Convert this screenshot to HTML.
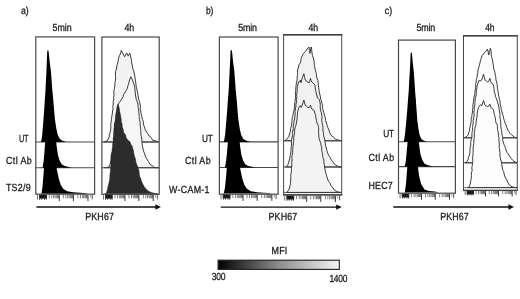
<!DOCTYPE html>
<html lang="en">
<head>
<meta charset="utf-8">
<title>PKH67 histograms</title>
<style>
html,body{margin:0;padding:0;background:#fff;}
body{width:520px;height:299px;overflow:hidden;}
svg{display:block;}
svg text{font-family:"Liberation Sans",sans-serif;fill:#1c1c1c;text-rendering:geometricPrecision;}
</style>
</head>
<body>
<svg width="520" height="299" viewBox="0 0 520 299">
<rect x="0" y="0" width="520" height="299" fill="#ffffff"/>
<line x1="35.8" y1="142.0" x2="94.6" y2="142.0" stroke="#484848" stroke-width="1.1"/>
<line x1="35.8" y1="167.7" x2="94.6" y2="167.7" stroke="#484848" stroke-width="1.1"/>
<polygon points="41.0,142.0 41.6,139.0 42.2,135.0 42.8,128.0 43.4,120.0 44.2,110.0 44.8,100.0 45.5,90.0 46.0,80.0 46.5,70.0 46.9,60.0 47.1,54.0 47.3,51.0 47.7,50.2 48.2,50.2 48.6,51.5 48.9,54.0 49.7,62.0 50.8,70.0 51.6,80.0 52.3,90.0 53.3,100.0 54.1,110.0 55.0,120.0 56.4,129.0 57.8,135.0 59.6,138.5 61.8,140.4 64.8,141.4 66.8,142.0" fill="#000"/>
<polygon points="42.5,167.7 43.1,164.7 43.7,160.7 44.3,153.7 44.9,145.7 45.7,135.7 46.3,125.7 47.0,115.7 47.5,105.7 48.0,95.7 48.4,85.7 48.6,79.7 48.8,76.7 49.2,75.9 49.7,75.9 50.1,77.2 50.4,79.7 51.2,87.7 52.3,95.7 53.1,105.7 53.8,115.7 54.8,125.7 55.7,135.7 56.6,145.7 57.9,154.7 59.7,160.7 61.9,164.5 64.8,166.1 68.8,167.0 71.8,167.7" fill="#000"/>
<polygon points="41.3,193.7 41.9,190.7 42.5,186.7 43.1,179.7 43.7,171.7 44.5,161.7 45.1,151.7 45.8,141.7 46.3,131.7 46.8,121.7 47.2,111.7 47.4,105.7 47.6,102.7 48.0,101.9 48.5,101.9 48.9,103.2 49.2,105.7 50.0,113.7 51.1,121.7 51.9,131.7 52.6,141.7 53.6,151.7 55.5,161.7 57.1,170.7 58.8,178.7 60.7,184.7 63.1,188.7 67.1,191.3 73.1,192.3 80.1,192.8 86.1,193.2 87.1,193.7" fill="#000"/>
<rect x="35.8" y="36.9" width="58.8" height="157.3" fill="none" stroke="#484848" stroke-width="1.2"/>
<rect x="39.2" y="194.8" width="7.6" height="3.8" fill="#0c0c0c"/>
<rect x="39.30" y="194.8" width="0.8" height="5.1" fill="#333"/>
<rect x="41.40" y="194.8" width="0.8" height="5.1" fill="#333"/>
<rect x="44.00" y="194.8" width="0.8" height="5.1" fill="#333"/>
<rect x="45.80" y="194.8" width="0.8" height="5.1" fill="#333"/>
<rect x="58.80" y="194.8" width="1.0" height="6.3" fill="#3a3a3a"/>
<rect x="48.83" y="194.8" width="0.8" height="3.5" fill="#4a4a4a" fill-opacity="0.85"/>
<rect x="51.37" y="194.8" width="0.8" height="3.5" fill="#4a4a4a" fill-opacity="0.85"/>
<rect x="53.17" y="194.8" width="0.8" height="3.5" fill="#4a4a4a" fill-opacity="0.85"/>
<rect x="54.57" y="194.8" width="0.8" height="3.5" fill="#4a4a4a" fill-opacity="0.85"/>
<rect x="55.71" y="194.8" width="0.8" height="3.5" fill="#4a4a4a" fill-opacity="0.85"/>
<rect x="56.67" y="194.8" width="0.8" height="3.5" fill="#4a4a4a" fill-opacity="0.85"/>
<rect x="57.50" y="194.8" width="0.8" height="3.5" fill="#4a4a4a" fill-opacity="0.85"/>
<rect x="58.24" y="194.8" width="0.8" height="3.5" fill="#4a4a4a" fill-opacity="0.85"/>
<rect x="72.90" y="194.8" width="1.0" height="6.3" fill="#3a3a3a"/>
<rect x="62.93" y="194.8" width="0.8" height="3.5" fill="#4a4a4a" fill-opacity="0.85"/>
<rect x="65.47" y="194.8" width="0.8" height="3.5" fill="#4a4a4a" fill-opacity="0.85"/>
<rect x="67.27" y="194.8" width="0.8" height="3.5" fill="#4a4a4a" fill-opacity="0.85"/>
<rect x="68.67" y="194.8" width="0.8" height="3.5" fill="#4a4a4a" fill-opacity="0.85"/>
<rect x="69.81" y="194.8" width="0.8" height="3.5" fill="#4a4a4a" fill-opacity="0.85"/>
<rect x="70.77" y="194.8" width="0.8" height="3.5" fill="#4a4a4a" fill-opacity="0.85"/>
<rect x="71.60" y="194.8" width="0.8" height="3.5" fill="#4a4a4a" fill-opacity="0.85"/>
<rect x="72.34" y="194.8" width="0.8" height="3.5" fill="#4a4a4a" fill-opacity="0.85"/>
<rect x="87.50" y="194.8" width="1.0" height="6.3" fill="#3a3a3a"/>
<rect x="77.53" y="194.8" width="0.8" height="3.5" fill="#4a4a4a" fill-opacity="0.85"/>
<rect x="80.07" y="194.8" width="0.8" height="3.5" fill="#4a4a4a" fill-opacity="0.85"/>
<rect x="81.87" y="194.8" width="0.8" height="3.5" fill="#4a4a4a" fill-opacity="0.85"/>
<rect x="83.27" y="194.8" width="0.8" height="3.5" fill="#4a4a4a" fill-opacity="0.85"/>
<rect x="84.41" y="194.8" width="0.8" height="3.5" fill="#4a4a4a" fill-opacity="0.85"/>
<rect x="85.37" y="194.8" width="0.8" height="3.5" fill="#4a4a4a" fill-opacity="0.85"/>
<rect x="86.20" y="194.8" width="0.8" height="3.5" fill="#4a4a4a" fill-opacity="0.85"/>
<rect x="86.94" y="194.8" width="0.8" height="3.5" fill="#4a4a4a" fill-opacity="0.85"/>
<rect x="37.00" y="194.8" width="0.8" height="4.8" fill="#555"/>
<rect x="91.75" y="194.8" width="0.9" height="4.5" fill="#444"/>
<rect x="90.10" y="194.8" width="0.6" height="2.7" fill="#666"/>
<polygon points="103.5,142.0 104.5,141.7 107.5,140.6 109.2,137.0 109.4,134.4 110.2,132.0 110.7,129.5 110.9,126.9 110.7,124.4 111.2,121.8 111.4,119.3 111.8,116.5 112.3,113.7 112.6,110.9 113.0,108.6 112.8,106.3 113.3,104.0 113.1,101.8 113.8,99.6 113.6,97.4 114.0,95.2 113.9,93.0 113.8,90.7 114.4,88.4 114.8,86.1 114.8,83.8 115.2,81.5 115.6,79.0 115.6,76.5 115.4,74.0 115.6,71.4 116.5,69.0 116.8,65.9 117.7,63.0 118.2,60.5 118.6,58.0 119.6,55.4 120.7,53.0 121.3,50.4 122.6,53.0 124.7,56.7 126.6,52.9 128.3,56.1 129.8,53.2 130.5,55.6 131.0,58.0 131.5,60.5 131.7,63.0 132.4,66.2 133.0,69.4 134.0,71.6 134.3,74.0 134.9,76.3 135.1,78.6 135.5,80.9 135.9,83.8 136.2,86.7 136.9,89.2 137.4,91.7 137.9,94.3 138.2,96.9 138.7,99.4 139.5,101.7 140.0,104.0 140.5,106.3 140.2,108.6 140.6,110.9 141.2,113.8 141.9,116.7 142.4,119.3 143.4,121.7 143.4,124.4 144.4,126.9 145.2,129.5 146.5,132.0 147.9,133.8 148.9,135.8 150.3,136.5 151.6,138.3 152.7,140.3 155.0,140.6 157.0,141.5 158.5,142.0" fill="#f2f2f2" stroke="#262626" stroke-width="0.9" stroke-linejoin="round"/>
<line x1="101.9" y1="142.0" x2="159.2" y2="142.0" stroke="#484848" stroke-width="1.1"/>
<polygon points="104.5,167.7 106.5,167.5 108.8,167.0 110.0,164.5 110.9,161.0 111.6,158.6 112.1,156.1 111.9,153.4 112.3,151.0 113.3,148.5 113.5,146.0 113.8,143.7 113.9,141.4 113.8,139.1 114.1,136.9 114.3,134.6 114.4,132.3 114.5,130.0 114.5,127.7 115.0,125.4 115.3,123.1 115.8,120.9 116.3,118.6 116.5,116.3 116.5,114.0 116.8,111.8 117.1,109.6 117.2,107.4 117.7,105.2 119.4,102.5 121.5,99.4 123.2,96.8 123.6,94.5 125.4,91.8 127.3,88.5 128.0,85.5 128.5,84.1 129.6,80.0 130.8,76.8 131.9,79.0 133.0,81.6 133.9,84.1 134.6,86.7 134.9,89.3 135.2,92.1 135.4,95.0 135.9,97.2 136.2,99.4 137.2,101.7 138.0,104.0 138.0,106.3 138.4,108.6 138.7,110.9 138.9,113.7 139.3,116.5 139.3,119.3 140.0,121.8 140.1,124.3 140.5,126.8 140.6,129.4 140.9,131.8 140.8,134.3 141.3,136.7 141.9,139.1 141.9,141.6 142.1,144.2 142.6,146.8 143.2,149.3 143.8,151.7 144.8,154.0 145.3,156.2 146.3,158.2 148.5,161.5 150.2,164.5 152.0,165.5 154.0,167.3 156.2,167.7 158.5,167.7" fill="#f6f6f6" stroke="#262626" stroke-width="0.9" stroke-linejoin="round"/>
<line x1="101.9" y1="167.7" x2="159.2" y2="167.7" stroke="#484848" stroke-width="1.1"/>
<polygon points="105.0,193.7 106.3,193.2 107.5,189.4 107.9,186.9 108.6,184.5 109.5,180.5 109.8,177.7 109.9,174.8 110.3,172.0 110.7,167.8 110.8,165.0 110.9,162.2 110.9,159.4 110.9,156.8 111.2,154.3 112.2,151.8 112.1,149.2 112.6,146.7 112.6,144.1 113.4,141.6 113.2,139.1 113.7,136.6 113.7,134.0 113.8,131.7 113.9,129.4 114.3,126.9 114.3,124.3 114.9,121.8 115.4,119.3 115.5,116.7 115.8,114.2 116.6,111.1 117.0,108.0 118.1,104.0 119.2,108.0 119.6,111.1 120.3,114.2 121.0,118.0 121.3,121.5 122.1,124.2 122.2,127.0 123.1,129.0 123.6,132.5 125.4,134.5 126.2,137.8 127.9,140.2 129.8,141.6 131.0,144.5 132.4,146.7 132.8,148.9 133.5,151.0 133.8,153.3 134.3,155.6 135.4,159.0 136.2,163.3 137.2,165.5 138.0,167.8 139.0,170.9 139.3,174.2 139.7,176.4 140.7,178.4 141.3,180.5 142.6,183.8 144.4,186.9 146.5,189.4 148.9,191.4 151.5,192.6 154.0,193.3 158.0,193.7" fill="#2c2c2c" stroke="#1c1c1c" stroke-width="0.5" stroke-linejoin="round"/>
<rect x="101.9" y="37.0" width="57.3" height="157.3" fill="none" stroke="#484848" stroke-width="1.2"/>
<rect x="105.1" y="194.8" width="7.5" height="3.8" fill="#0c0c0c"/>
<rect x="105.24" y="194.8" width="0.8" height="5.1" fill="#333"/>
<rect x="107.31" y="194.8" width="0.8" height="5.1" fill="#333"/>
<rect x="109.87" y="194.8" width="0.8" height="5.1" fill="#333"/>
<rect x="111.64" y="194.8" width="0.8" height="5.1" fill="#333"/>
<rect x="124.45" y="194.8" width="1.0" height="6.3" fill="#3a3a3a"/>
<rect x="114.63" y="194.8" width="0.8" height="3.5" fill="#4a4a4a" fill-opacity="0.85"/>
<rect x="117.13" y="194.8" width="0.8" height="3.5" fill="#4a4a4a" fill-opacity="0.85"/>
<rect x="118.90" y="194.8" width="0.8" height="3.5" fill="#4a4a4a" fill-opacity="0.85"/>
<rect x="120.28" y="194.8" width="0.8" height="3.5" fill="#4a4a4a" fill-opacity="0.85"/>
<rect x="121.40" y="194.8" width="0.8" height="3.5" fill="#4a4a4a" fill-opacity="0.85"/>
<rect x="122.35" y="194.8" width="0.8" height="3.5" fill="#4a4a4a" fill-opacity="0.85"/>
<rect x="123.17" y="194.8" width="0.8" height="3.5" fill="#4a4a4a" fill-opacity="0.85"/>
<rect x="123.90" y="194.8" width="0.8" height="3.5" fill="#4a4a4a" fill-opacity="0.85"/>
<rect x="138.34" y="194.8" width="1.0" height="6.3" fill="#3a3a3a"/>
<rect x="128.52" y="194.8" width="0.8" height="3.5" fill="#4a4a4a" fill-opacity="0.85"/>
<rect x="131.02" y="194.8" width="0.8" height="3.5" fill="#4a4a4a" fill-opacity="0.85"/>
<rect x="132.79" y="194.8" width="0.8" height="3.5" fill="#4a4a4a" fill-opacity="0.85"/>
<rect x="134.17" y="194.8" width="0.8" height="3.5" fill="#4a4a4a" fill-opacity="0.85"/>
<rect x="135.29" y="194.8" width="0.8" height="3.5" fill="#4a4a4a" fill-opacity="0.85"/>
<rect x="136.24" y="194.8" width="0.8" height="3.5" fill="#4a4a4a" fill-opacity="0.85"/>
<rect x="137.06" y="194.8" width="0.8" height="3.5" fill="#4a4a4a" fill-opacity="0.85"/>
<rect x="137.79" y="194.8" width="0.8" height="3.5" fill="#4a4a4a" fill-opacity="0.85"/>
<rect x="152.72" y="194.8" width="1.0" height="6.3" fill="#3a3a3a"/>
<rect x="142.90" y="194.8" width="0.8" height="3.5" fill="#4a4a4a" fill-opacity="0.85"/>
<rect x="145.40" y="194.8" width="0.8" height="3.5" fill="#4a4a4a" fill-opacity="0.85"/>
<rect x="147.17" y="194.8" width="0.8" height="3.5" fill="#4a4a4a" fill-opacity="0.85"/>
<rect x="148.55" y="194.8" width="0.8" height="3.5" fill="#4a4a4a" fill-opacity="0.85"/>
<rect x="149.67" y="194.8" width="0.8" height="3.5" fill="#4a4a4a" fill-opacity="0.85"/>
<rect x="150.62" y="194.8" width="0.8" height="3.5" fill="#4a4a4a" fill-opacity="0.85"/>
<rect x="151.44" y="194.8" width="0.8" height="3.5" fill="#4a4a4a" fill-opacity="0.85"/>
<rect x="152.17" y="194.8" width="0.8" height="3.5" fill="#4a4a4a" fill-opacity="0.85"/>
<rect x="102.98" y="194.8" width="0.8" height="4.8" fill="#555"/>
<rect x="156.90" y="194.8" width="0.9" height="4.5" fill="#444"/>
<rect x="155.28" y="194.8" width="0.6" height="2.7" fill="#666"/>
<line x1="36.4" y1="207.0" x2="157.0" y2="207.0" stroke="#111" stroke-width="1.4"/><polygon points="155.4,204.3 161.0,207.0 155.4,209.7" fill="#111"/>
<line x1="219.4" y1="141.9" x2="278.1" y2="141.9" stroke="#484848" stroke-width="1.1"/>
<line x1="219.4" y1="167.5" x2="278.1" y2="167.5" stroke="#484848" stroke-width="1.1"/>
<polygon points="223.8,141.9 224.4,138.9 225.1,134.9 225.7,127.9 226.4,119.9 227.2,109.9 227.9,99.9 228.7,89.9 229.2,79.9 229.7,69.9 230.2,59.9 230.4,53.9 230.6,50.9 231.0,50.1 231.6,50.1 232.0,51.4 232.3,53.9 233.1,61.9 234.2,69.9 235.0,79.9 235.7,89.9 236.7,99.9 237.5,109.9 238.4,119.9 239.8,128.9 241.2,134.9 243.0,138.4 245.2,140.3 248.2,141.3 250.3,141.9" fill="#000"/>
<polygon points="224.8,167.5 225.5,164.5 226.2,160.5 226.9,153.5 227.6,145.5 228.5,135.5 229.2,125.5 230.0,115.5 230.6,105.5 231.1,95.5 231.6,85.5 231.8,79.5 232.1,76.5 232.5,75.7 233.1,75.7 233.5,77.0 233.8,79.5 234.6,87.5 235.7,95.5 236.5,105.5 237.2,115.5 238.2,125.5 239.1,135.5 240.0,145.5 241.3,154.5 243.1,160.5 245.3,164.3 248.2,165.9 252.3,166.8 255.3,167.5" fill="#000"/>
<polygon points="223.7,193.6 224.4,190.6 225.1,186.6 225.8,179.6 226.5,171.6 227.4,161.6 228.1,151.6 228.9,141.6 229.5,131.6 230.0,121.6 230.5,111.6 230.7,105.6 231.0,102.6 231.4,101.8 232.0,101.8 232.4,103.1 232.7,105.6 233.5,113.6 234.6,121.6 235.4,131.6 236.1,141.6 237.1,151.6 239.0,161.6 240.6,170.6 242.3,178.6 244.2,184.6 246.6,188.6 250.7,191.2 256.7,192.2 263.7,192.7 269.8,193.1 270.8,193.6" fill="#000"/>
<rect x="219.4" y="37.0" width="58.7" height="157.2" fill="none" stroke="#484848" stroke-width="1.2"/>
<rect x="222.8" y="194.6" width="7.6" height="3.8" fill="#0c0c0c"/>
<rect x="222.92" y="194.6" width="0.8" height="5.1" fill="#333"/>
<rect x="225.03" y="194.6" width="0.8" height="5.1" fill="#333"/>
<rect x="227.64" y="194.6" width="0.8" height="5.1" fill="#333"/>
<rect x="229.45" y="194.6" width="0.8" height="5.1" fill="#333"/>
<rect x="242.52" y="194.6" width="1.0" height="6.3" fill="#3a3a3a"/>
<rect x="232.50" y="194.6" width="0.8" height="3.5" fill="#4a4a4a" fill-opacity="0.85"/>
<rect x="235.05" y="194.6" width="0.8" height="3.5" fill="#4a4a4a" fill-opacity="0.85"/>
<rect x="236.86" y="194.6" width="0.8" height="3.5" fill="#4a4a4a" fill-opacity="0.85"/>
<rect x="238.26" y="194.6" width="0.8" height="3.5" fill="#4a4a4a" fill-opacity="0.85"/>
<rect x="239.41" y="194.6" width="0.8" height="3.5" fill="#4a4a4a" fill-opacity="0.85"/>
<rect x="240.38" y="194.6" width="0.8" height="3.5" fill="#4a4a4a" fill-opacity="0.85"/>
<rect x="241.22" y="194.6" width="0.8" height="3.5" fill="#4a4a4a" fill-opacity="0.85"/>
<rect x="241.96" y="194.6" width="0.8" height="3.5" fill="#4a4a4a" fill-opacity="0.85"/>
<rect x="256.69" y="194.6" width="1.0" height="6.3" fill="#3a3a3a"/>
<rect x="246.67" y="194.6" width="0.8" height="3.5" fill="#4a4a4a" fill-opacity="0.85"/>
<rect x="249.22" y="194.6" width="0.8" height="3.5" fill="#4a4a4a" fill-opacity="0.85"/>
<rect x="251.03" y="194.6" width="0.8" height="3.5" fill="#4a4a4a" fill-opacity="0.85"/>
<rect x="252.43" y="194.6" width="0.8" height="3.5" fill="#4a4a4a" fill-opacity="0.85"/>
<rect x="253.58" y="194.6" width="0.8" height="3.5" fill="#4a4a4a" fill-opacity="0.85"/>
<rect x="254.55" y="194.6" width="0.8" height="3.5" fill="#4a4a4a" fill-opacity="0.85"/>
<rect x="255.39" y="194.6" width="0.8" height="3.5" fill="#4a4a4a" fill-opacity="0.85"/>
<rect x="256.13" y="194.6" width="0.8" height="3.5" fill="#4a4a4a" fill-opacity="0.85"/>
<rect x="271.36" y="194.6" width="1.0" height="6.3" fill="#3a3a3a"/>
<rect x="261.35" y="194.6" width="0.8" height="3.5" fill="#4a4a4a" fill-opacity="0.85"/>
<rect x="263.89" y="194.6" width="0.8" height="3.5" fill="#4a4a4a" fill-opacity="0.85"/>
<rect x="265.70" y="194.6" width="0.8" height="3.5" fill="#4a4a4a" fill-opacity="0.85"/>
<rect x="267.10" y="194.6" width="0.8" height="3.5" fill="#4a4a4a" fill-opacity="0.85"/>
<rect x="268.25" y="194.6" width="0.8" height="3.5" fill="#4a4a4a" fill-opacity="0.85"/>
<rect x="269.22" y="194.6" width="0.8" height="3.5" fill="#4a4a4a" fill-opacity="0.85"/>
<rect x="270.06" y="194.6" width="0.8" height="3.5" fill="#4a4a4a" fill-opacity="0.85"/>
<rect x="270.80" y="194.6" width="0.8" height="3.5" fill="#4a4a4a" fill-opacity="0.85"/>
<rect x="220.61" y="194.6" width="0.8" height="4.8" fill="#555"/>
<rect x="275.63" y="194.6" width="0.9" height="4.5" fill="#444"/>
<rect x="273.97" y="194.6" width="0.6" height="2.7" fill="#666"/>
<polygon points="284.5,140.8 286.5,139.6 288.9,136.6 289.4,134.0 290.3,131.5 290.6,128.4 291.5,125.4 291.8,122.8 292.0,120.3 292.3,117.7 293.0,115.2 293.4,112.7 294.1,110.2 294.4,107.7 294.7,105.1 294.7,102.5 295.3,100.0 295.4,97.7 295.5,95.4 295.5,92.8 295.7,90.3 295.8,87.8 296.1,85.2 296.5,82.7 297.1,79.8 297.2,76.9 297.5,74.6 297.5,72.3 297.4,70.0 298.4,68.0 299.0,64.5 300.4,62.9 300.9,60.7 301.0,58.5 302.3,55.9 303.5,53.5 305.4,51.5 307.2,49.0 309.0,47.0 309.5,50.5 309.9,53.4 310.6,50.0 311.2,47.0 311.7,49.2 311.8,51.5 312.4,55.3 313.7,59.1 314.2,62.2 314.4,65.4 314.9,68.1 315.5,70.8 316.3,73.5 316.5,75.9 317.0,78.2 318.0,80.3 318.2,82.7 318.4,85.3 318.7,87.8 319.1,90.4 319.4,92.9 320.3,96.1 320.7,99.3 321.3,100.4 321.8,102.9 322.6,105.3 322.6,107.8 323.1,110.3 323.9,112.7 324.5,115.3 325.3,117.8 325.5,120.4 326.4,122.9 327.2,125.3 327.9,127.7 329.0,130.0 329.7,132.6 330.9,135.1 333.5,137.3 336.0,139.5 339.8,140.4 341.5,140.8" fill="#f1f1f1" stroke="#262626" stroke-width="0.9" stroke-linejoin="round"/>
<line x1="283.6" y1="140.8" x2="341.7" y2="140.8" stroke="#484848" stroke-width="1.1"/>
<polygon points="285.5,167.0 287.6,165.6 288.4,163.3 289.0,161.0 289.8,158.2 290.2,155.4 290.7,152.9 291.0,150.4 291.1,147.8 291.5,145.3 291.5,142.7 291.4,140.3 292.0,138.0 292.5,135.7 292.6,133.4 292.7,131.0 293.4,128.6 293.2,126.2 293.8,123.8 294.0,121.4 294.6,119.0 294.9,116.5 295.2,114.0 295.0,111.5 295.4,109.1 295.9,106.6 295.9,104.2 296.6,101.8 296.5,99.3 296.9,96.8 296.6,94.2 297.2,91.7 297.2,89.1 297.4,86.6 298.0,84.2 298.4,82.1 300.0,81.5 300.4,80.2 301.0,82.7 301.9,79.0 302.9,76.4 303.9,73.8 304.6,77.5 305.4,80.2 306.3,80.5 307.4,82.1 309.3,82.7 310.0,80.2 310.5,78.3 311.1,80.4 311.8,82.1 313.7,83.4 315.0,85.3 315.2,87.9 315.6,90.4 316.5,94.0 317.5,98.0 319.4,99.6 319.9,102.0 320.3,104.4 320.2,106.9 320.5,109.8 321.3,112.7 321.8,115.2 322.0,117.8 321.7,120.4 322.1,122.9 322.6,125.4 323.0,127.7 322.8,130.0 323.4,132.3 323.5,134.6 323.9,136.9 324.8,139.8 325.2,142.7 325.5,145.3 326.3,147.8 326.8,150.4 327.7,152.9 328.5,155.2 330.0,157.1 330.9,159.3 332.9,161.8 334.7,164.4 338.5,166.6 341.5,167.0" fill="#f1f1f1" stroke="#262626" stroke-width="0.9" stroke-linejoin="round"/>
<line x1="283.6" y1="167.0" x2="341.7" y2="167.0" stroke="#484848" stroke-width="1.1"/>
<polygon points="286.8,192.4 288.3,190.6 289.5,188.0 290.0,185.8 290.4,183.5 290.5,181.2 290.8,179.0 290.8,176.6 290.8,174.2 291.4,171.8 291.4,169.4 291.6,167.0 291.9,164.7 291.7,162.4 292.1,160.0 291.8,157.7 292.1,155.4 292.6,152.9 292.8,150.3 292.8,147.8 293.2,145.2 293.4,142.7 293.8,140.2 293.7,137.6 294.2,135.1 294.6,132.6 294.6,130.0 295.1,127.7 295.9,125.4 296.4,123.2 296.7,121.0 297.1,118.8 297.2,116.5 297.5,113.9 297.7,111.4 298.4,108.9 299.4,106.4 300.4,105.7 301.2,107.5 302.3,105.1 303.1,102.3 303.9,100.0 304.6,103.0 305.4,105.7 306.6,106.3 308.0,107.6 309.4,107.4 310.5,105.1 311.1,107.0 311.8,108.9 314.4,110.8 314.8,113.1 315.6,115.3 315.8,117.9 316.5,120.4 316.9,122.9 318.2,125.4 318.6,127.7 318.7,130.0 318.5,132.3 318.8,134.6 318.8,136.9 319.4,139.9 320.7,142.7 321.0,145.2 321.7,147.7 321.7,150.3 322.3,152.8 322.6,155.4 323.0,157.8 323.9,160.0 323.8,162.3 324.3,164.6 324.5,166.9 325.2,170.2 325.7,172.5 326.3,174.7 326.9,176.9 327.7,179.1 328.5,181.4 330.1,183.2 330.9,185.4 332.9,187.9 334.7,190.5 336.9,191.5 339.2,192.3 341.5,192.4" fill="#f3f3f3" stroke="#262626" stroke-width="0.9" stroke-linejoin="round"/>
<line x1="283.6" y1="192.6" x2="341.7" y2="192.6" stroke="#3a3a3a" stroke-width="0.8"/>
<rect x="283.6" y="34.8" width="58.1" height="160.1" fill="none" stroke="#484848" stroke-width="1.0"/>
<line x1="283.0" y1="34.8" x2="342.3" y2="34.8" stroke="#404040" stroke-width="1.5"/>
<line x1="283.0" y1="194.9" x2="342.3" y2="194.9" stroke="#3c3c3c" stroke-width="1.3"/>
<rect x="286.6" y="195.7" width="7.6" height="3.8" fill="#0c0c0c"/>
<rect x="286.70" y="195.7" width="0.8" height="5.1" fill="#333"/>
<rect x="288.80" y="195.7" width="0.8" height="5.1" fill="#333"/>
<rect x="291.40" y="195.7" width="0.8" height="5.1" fill="#333"/>
<rect x="293.20" y="195.7" width="0.8" height="5.1" fill="#333"/>
<rect x="306.20" y="195.7" width="1.0" height="6.3" fill="#3a3a3a"/>
<rect x="296.23" y="195.7" width="0.8" height="3.5" fill="#4a4a4a" fill-opacity="0.85"/>
<rect x="298.77" y="195.7" width="0.8" height="3.5" fill="#4a4a4a" fill-opacity="0.85"/>
<rect x="300.57" y="195.7" width="0.8" height="3.5" fill="#4a4a4a" fill-opacity="0.85"/>
<rect x="301.97" y="195.7" width="0.8" height="3.5" fill="#4a4a4a" fill-opacity="0.85"/>
<rect x="303.11" y="195.7" width="0.8" height="3.5" fill="#4a4a4a" fill-opacity="0.85"/>
<rect x="304.07" y="195.7" width="0.8" height="3.5" fill="#4a4a4a" fill-opacity="0.85"/>
<rect x="304.90" y="195.7" width="0.8" height="3.5" fill="#4a4a4a" fill-opacity="0.85"/>
<rect x="305.64" y="195.7" width="0.8" height="3.5" fill="#4a4a4a" fill-opacity="0.85"/>
<rect x="320.30" y="195.7" width="1.0" height="6.3" fill="#3a3a3a"/>
<rect x="310.33" y="195.7" width="0.8" height="3.5" fill="#4a4a4a" fill-opacity="0.85"/>
<rect x="312.87" y="195.7" width="0.8" height="3.5" fill="#4a4a4a" fill-opacity="0.85"/>
<rect x="314.67" y="195.7" width="0.8" height="3.5" fill="#4a4a4a" fill-opacity="0.85"/>
<rect x="316.07" y="195.7" width="0.8" height="3.5" fill="#4a4a4a" fill-opacity="0.85"/>
<rect x="317.21" y="195.7" width="0.8" height="3.5" fill="#4a4a4a" fill-opacity="0.85"/>
<rect x="318.17" y="195.7" width="0.8" height="3.5" fill="#4a4a4a" fill-opacity="0.85"/>
<rect x="319.00" y="195.7" width="0.8" height="3.5" fill="#4a4a4a" fill-opacity="0.85"/>
<rect x="319.74" y="195.7" width="0.8" height="3.5" fill="#4a4a4a" fill-opacity="0.85"/>
<rect x="334.90" y="195.7" width="1.0" height="6.3" fill="#3a3a3a"/>
<rect x="324.93" y="195.7" width="0.8" height="3.5" fill="#4a4a4a" fill-opacity="0.85"/>
<rect x="327.47" y="195.7" width="0.8" height="3.5" fill="#4a4a4a" fill-opacity="0.85"/>
<rect x="329.27" y="195.7" width="0.8" height="3.5" fill="#4a4a4a" fill-opacity="0.85"/>
<rect x="330.67" y="195.7" width="0.8" height="3.5" fill="#4a4a4a" fill-opacity="0.85"/>
<rect x="331.81" y="195.7" width="0.8" height="3.5" fill="#4a4a4a" fill-opacity="0.85"/>
<rect x="332.77" y="195.7" width="0.8" height="3.5" fill="#4a4a4a" fill-opacity="0.85"/>
<rect x="333.60" y="195.7" width="0.8" height="3.5" fill="#4a4a4a" fill-opacity="0.85"/>
<rect x="334.34" y="195.7" width="0.8" height="3.5" fill="#4a4a4a" fill-opacity="0.85"/>
<rect x="284.40" y="195.7" width="0.8" height="4.8" fill="#555"/>
<rect x="339.15" y="195.7" width="0.9" height="4.5" fill="#444"/>
<rect x="337.50" y="195.7" width="0.6" height="2.7" fill="#666"/>
<line x1="220.7" y1="207.1" x2="337.8" y2="207.1" stroke="#111" stroke-width="1.4"/><polygon points="336.2,204.4 341.8,207.1 336.2,209.8" fill="#111"/>
<line x1="398.5" y1="141.8" x2="455.4" y2="141.8" stroke="#484848" stroke-width="1.1"/>
<line x1="398.5" y1="166.6" x2="455.4" y2="166.6" stroke="#484848" stroke-width="1.1"/>
<polygon points="403.6,141.8 404.3,138.9 404.9,135.0 405.6,128.2 406.3,120.4 407.2,110.7 407.9,100.9 408.7,91.2 409.2,81.5 409.8,71.7 410.3,62.0 410.5,56.2 410.7,53.3 411.2,52.5 411.7,52.5 412.0,53.7 412.2,56.2 412.9,64.0 413.8,71.7 414.5,81.5 415.1,91.2 415.9,100.9 416.6,110.7 417.3,120.4 418.5,129.2 419.6,135.0 421.1,138.4 423.0,140.2 425.5,141.2 427.1,141.8" fill="#000"/>
<polygon points="404.7,166.6 405.4,163.7 406.0,159.8 406.6,153.0 407.3,145.2 408.1,135.5 408.8,125.7 409.5,116.0 410.1,106.3 410.6,96.5 411.1,86.8 411.3,81.0 411.5,78.1 411.9,77.3 412.4,77.3 412.8,78.5 413.1,81.0 413.9,88.8 415.0,96.5 415.8,106.3 416.4,116.0 417.4,125.7 418.3,135.5 419.2,145.2 420.4,154.0 422.2,159.8 424.4,163.5 427.2,165.0 431.1,165.9 434.0,166.6" fill="#000"/>
<polygon points="404.7,192.4 405.2,189.5 405.8,185.6 406.4,178.8 407.0,171.0 407.8,161.3 408.4,151.5 409.1,141.8 409.6,132.1 410.0,122.3 410.4,112.6 410.6,106.8 410.8,103.9 411.2,103.1 411.7,103.1 412.1,104.3 412.4,106.8 413.2,114.6 414.2,122.3 415.0,132.1 415.7,141.8 416.7,151.5 417.5,161.3 418.4,171.0 419.1,175.9 421.1,184.0 424.5,189.5 428.9,190.9 434.8,191.6 438.7,192.4" fill="#000"/>
<rect x="398.5" y="40.1" width="56.9" height="153.1" fill="none" stroke="#484848" stroke-width="1.2"/>
<rect x="401.8" y="193.8" width="7.4" height="3.6" fill="#0c0c0c"/>
<rect x="401.91" y="193.8" width="0.8" height="4.8" fill="#333"/>
<rect x="403.97" y="193.8" width="0.8" height="4.8" fill="#333"/>
<rect x="406.51" y="193.8" width="0.8" height="4.8" fill="#333"/>
<rect x="408.27" y="193.8" width="0.8" height="4.8" fill="#333"/>
<rect x="420.98" y="193.8" width="1.0" height="6.0" fill="#3a3a3a"/>
<rect x="411.24" y="193.8" width="0.8" height="3.3" fill="#4a4a4a" fill-opacity="0.85"/>
<rect x="413.72" y="193.8" width="0.8" height="3.3" fill="#4a4a4a" fill-opacity="0.85"/>
<rect x="415.48" y="193.8" width="0.8" height="3.3" fill="#4a4a4a" fill-opacity="0.85"/>
<rect x="416.84" y="193.8" width="0.8" height="3.3" fill="#4a4a4a" fill-opacity="0.85"/>
<rect x="417.96" y="193.8" width="0.8" height="3.3" fill="#4a4a4a" fill-opacity="0.85"/>
<rect x="418.90" y="193.8" width="0.8" height="3.3" fill="#4a4a4a" fill-opacity="0.85"/>
<rect x="419.72" y="193.8" width="0.8" height="3.3" fill="#4a4a4a" fill-opacity="0.85"/>
<rect x="420.44" y="193.8" width="0.8" height="3.3" fill="#4a4a4a" fill-opacity="0.85"/>
<rect x="434.77" y="193.8" width="1.0" height="6.0" fill="#3a3a3a"/>
<rect x="425.03" y="193.8" width="0.8" height="3.3" fill="#4a4a4a" fill-opacity="0.85"/>
<rect x="427.51" y="193.8" width="0.8" height="3.3" fill="#4a4a4a" fill-opacity="0.85"/>
<rect x="429.27" y="193.8" width="0.8" height="3.3" fill="#4a4a4a" fill-opacity="0.85"/>
<rect x="430.63" y="193.8" width="0.8" height="3.3" fill="#4a4a4a" fill-opacity="0.85"/>
<rect x="431.75" y="193.8" width="0.8" height="3.3" fill="#4a4a4a" fill-opacity="0.85"/>
<rect x="432.69" y="193.8" width="0.8" height="3.3" fill="#4a4a4a" fill-opacity="0.85"/>
<rect x="433.51" y="193.8" width="0.8" height="3.3" fill="#4a4a4a" fill-opacity="0.85"/>
<rect x="434.23" y="193.8" width="0.8" height="3.3" fill="#4a4a4a" fill-opacity="0.85"/>
<rect x="449.05" y="193.8" width="1.0" height="6.0" fill="#3a3a3a"/>
<rect x="439.31" y="193.8" width="0.8" height="3.3" fill="#4a4a4a" fill-opacity="0.85"/>
<rect x="441.79" y="193.8" width="0.8" height="3.3" fill="#4a4a4a" fill-opacity="0.85"/>
<rect x="443.55" y="193.8" width="0.8" height="3.3" fill="#4a4a4a" fill-opacity="0.85"/>
<rect x="444.91" y="193.8" width="0.8" height="3.3" fill="#4a4a4a" fill-opacity="0.85"/>
<rect x="446.03" y="193.8" width="0.8" height="3.3" fill="#4a4a4a" fill-opacity="0.85"/>
<rect x="446.97" y="193.8" width="0.8" height="3.3" fill="#4a4a4a" fill-opacity="0.85"/>
<rect x="447.79" y="193.8" width="0.8" height="3.3" fill="#4a4a4a" fill-opacity="0.85"/>
<rect x="448.51" y="193.8" width="0.8" height="3.3" fill="#4a4a4a" fill-opacity="0.85"/>
<rect x="399.66" y="193.8" width="0.8" height="4.5" fill="#555"/>
<rect x="453.21" y="193.8" width="0.9" height="4.3" fill="#444"/>
<rect x="451.60" y="193.8" width="0.6" height="2.5" fill="#666"/>
<polygon points="464.3,137.8 465.2,137.5 467.0,136.2 468.2,134.9 468.8,132.4 469.6,130.0 469.9,127.0 470.7,124.1 471.2,121.7 471.1,119.2 471.8,116.8 472.0,114.4 472.5,112.0 472.4,109.6 473.0,107.2 472.9,104.8 473.4,102.4 473.7,100.0 474.0,97.0 474.9,94.1 474.9,91.7 475.3,89.3 475.8,86.9 475.6,84.4 476.1,82.0 476.3,79.6 477.0,77.3 477.3,74.9 477.9,72.5 477.9,70.0 478.9,67.1 479.7,64.1 480.2,61.8 480.8,59.5 482.1,55.7 484.5,52.5 486.3,51.0 487.5,49.0 488.2,52.0 488.7,55.0 489.6,51.5 490.3,48.4 491.1,51.1 491.2,54.0 491.5,56.7 492.3,59.3 492.8,62.1 493.3,64.9 493.5,67.7 494.1,70.0 495.0,72.7 495.3,75.5 495.9,77.6 495.9,79.9 496.6,82.0 497.2,84.4 497.3,86.8 497.6,89.3 498.1,91.7 498.4,94.1 498.8,96.8 499.6,99.4 500.1,102.1 500.2,104.9 501.0,107.2 501.3,109.7 502.0,112.0 502.6,114.2 503.3,116.3 503.7,118.6 504.4,120.7 505.0,122.9 506.0,125.1 506.8,127.5 508.6,131.3 509.9,133.2 511.6,134.9 514.6,137.2 517.0,137.8" fill="#fcfcfc" stroke="#262626" stroke-width="0.9" stroke-linejoin="round"/>
<line x1="463.5" y1="137.8" x2="517.3" y2="137.8" stroke="#484848" stroke-width="1.1"/>
<polygon points="465.0,162.8 466.5,162.0 468.0,160.0 468.4,157.7 469.2,155.5 469.9,152.8 470.0,150.0 470.1,147.5 470.8,145.0 470.7,142.4 471.1,139.9 471.9,137.5 471.9,134.9 472.0,132.5 472.5,130.1 472.6,127.7 472.9,125.2 473.2,122.8 473.2,120.4 473.7,118.0 474.2,115.4 473.9,112.7 474.2,110.1 474.3,107.5 474.9,104.9 474.9,102.5 475.2,100.1 475.5,97.7 476.2,94.9 476.2,92.1 476.7,89.3 477.0,86.2 477.9,83.3 479.1,80.2 480.3,80.8 481.1,80.6 482.1,79.0 482.8,76.5 483.5,74.2 484.3,77.5 485.1,80.2 486.3,81.0 487.5,82.0 488.9,81.2 489.9,78.4 490.5,80.5 491.1,82.7 492.9,83.9 493.7,86.6 494.1,89.3 494.2,91.8 495.2,94.0 495.3,96.5 496.6,98.9 497.4,101.9 498.4,104.9 498.9,107.3 499.1,109.7 499.6,112.0 500.0,114.4 499.9,116.9 500.3,119.3 500.5,121.7 500.8,124.1 500.8,126.8 501.3,129.5 501.9,132.2 502.0,134.9 502.8,137.5 502.7,140.4 503.5,143.0 504.3,145.3 505.4,147.6 506.0,150.0 506.9,152.2 508.3,154.0 509.5,156.0 511.1,158.3 513.0,160.5 516.0,162.5 517.0,162.8" fill="#fcfcfc" stroke="#262626" stroke-width="0.9" stroke-linejoin="round"/>
<line x1="463.5" y1="162.8" x2="517.3" y2="162.8" stroke="#484848" stroke-width="1.1"/>
<polygon points="467.4,187.6 468.6,187.0 469.4,186.5 470.4,183.0 470.8,180.5 471.3,178.0 471.4,175.4 471.4,172.9 472.2,170.4 471.8,167.8 472.3,165.3 472.5,162.7 472.9,160.2 472.5,157.6 473.0,155.1 473.1,152.5 473.2,150.0 473.1,147.5 473.5,145.0 473.9,142.5 473.9,139.9 474.3,137.4 474.3,134.9 474.4,132.7 474.7,130.5 474.9,128.3 475.5,126.1 476.1,123.9 476.1,121.7 476.6,118.9 477.1,116.1 477.3,113.3 477.8,110.2 478.5,107.2 480.3,104.8 481.9,105.5 482.7,103.0 483.5,100.6 484.3,103.0 485.1,105.4 487.5,106.6 488.9,106.0 489.9,104.2 490.5,106.0 491.1,107.8 493.5,109.6 493.9,112.7 494.7,115.7 495.4,118.1 495.6,120.5 495.9,122.9 497.2,124.1 497.4,126.8 497.6,129.5 498.2,132.2 498.4,134.9 498.9,137.4 498.9,139.9 499.2,142.4 499.3,145.0 499.1,147.5 499.5,150.0 500.0,152.5 499.9,155.0 500.2,157.5 500.8,160.0 501.6,162.3 501.8,164.8 502.2,167.2 502.6,169.6 503.7,171.6 504.1,173.8 504.6,176.0 505.6,178.0 506.8,179.9 507.6,182.0 509.8,185.3 512.0,186.8 514.6,187.5 517.0,187.6" fill="#fdfdfd" stroke="#262626" stroke-width="0.9" stroke-linejoin="round"/>
<line x1="463.4" y1="187.6" x2="517.4" y2="187.6" stroke="#3a3a3a" stroke-width="0.7"/>
<rect x="463.5" y="35.8" width="53.8" height="154.55" fill="none" stroke="#484848" stroke-width="1.0"/>
<line x1="463.0" y1="35.8" x2="517.8" y2="35.8" stroke="#444" stroke-width="1.4"/>
<line x1="463.0" y1="190.3" x2="517.8" y2="190.3" stroke="#383838" stroke-width="1.0"/>
<rect x="466.8" y="190.9" width="7.1" height="3.5" fill="#0c0c0c"/>
<rect x="466.83" y="190.9" width="0.8" height="4.4" fill="#333"/>
<rect x="468.78" y="190.9" width="0.8" height="4.4" fill="#333"/>
<rect x="471.20" y="190.9" width="0.8" height="4.4" fill="#333"/>
<rect x="472.87" y="190.9" width="0.8" height="4.4" fill="#333"/>
<rect x="484.96" y="190.9" width="1.0" height="5.6" fill="#3a3a3a"/>
<rect x="475.69" y="190.9" width="0.8" height="3.2" fill="#4a4a4a" fill-opacity="0.85"/>
<rect x="478.05" y="190.9" width="0.8" height="3.2" fill="#4a4a4a" fill-opacity="0.85"/>
<rect x="479.73" y="190.9" width="0.8" height="3.2" fill="#4a4a4a" fill-opacity="0.85"/>
<rect x="481.02" y="190.9" width="0.8" height="3.2" fill="#4a4a4a" fill-opacity="0.85"/>
<rect x="482.08" y="190.9" width="0.8" height="3.2" fill="#4a4a4a" fill-opacity="0.85"/>
<rect x="482.98" y="190.9" width="0.8" height="3.2" fill="#4a4a4a" fill-opacity="0.85"/>
<rect x="483.76" y="190.9" width="0.8" height="3.2" fill="#4a4a4a" fill-opacity="0.85"/>
<rect x="484.44" y="190.9" width="0.8" height="3.2" fill="#4a4a4a" fill-opacity="0.85"/>
<rect x="498.07" y="190.9" width="1.0" height="5.6" fill="#3a3a3a"/>
<rect x="488.81" y="190.9" width="0.8" height="3.2" fill="#4a4a4a" fill-opacity="0.85"/>
<rect x="491.17" y="190.9" width="0.8" height="3.2" fill="#4a4a4a" fill-opacity="0.85"/>
<rect x="492.84" y="190.9" width="0.8" height="3.2" fill="#4a4a4a" fill-opacity="0.85"/>
<rect x="494.14" y="190.9" width="0.8" height="3.2" fill="#4a4a4a" fill-opacity="0.85"/>
<rect x="495.20" y="190.9" width="0.8" height="3.2" fill="#4a4a4a" fill-opacity="0.85"/>
<rect x="496.09" y="190.9" width="0.8" height="3.2" fill="#4a4a4a" fill-opacity="0.85"/>
<rect x="496.87" y="190.9" width="0.8" height="3.2" fill="#4a4a4a" fill-opacity="0.85"/>
<rect x="497.56" y="190.9" width="0.8" height="3.2" fill="#4a4a4a" fill-opacity="0.85"/>
<rect x="511.65" y="190.9" width="1.0" height="5.6" fill="#3a3a3a"/>
<rect x="502.39" y="190.9" width="0.8" height="3.2" fill="#4a4a4a" fill-opacity="0.85"/>
<rect x="504.74" y="190.9" width="0.8" height="3.2" fill="#4a4a4a" fill-opacity="0.85"/>
<rect x="506.42" y="190.9" width="0.8" height="3.2" fill="#4a4a4a" fill-opacity="0.85"/>
<rect x="507.71" y="190.9" width="0.8" height="3.2" fill="#4a4a4a" fill-opacity="0.85"/>
<rect x="508.78" y="190.9" width="0.8" height="3.2" fill="#4a4a4a" fill-opacity="0.85"/>
<rect x="509.67" y="190.9" width="0.8" height="3.2" fill="#4a4a4a" fill-opacity="0.85"/>
<rect x="510.45" y="190.9" width="0.8" height="3.2" fill="#4a4a4a" fill-opacity="0.85"/>
<rect x="511.13" y="190.9" width="0.8" height="3.2" fill="#4a4a4a" fill-opacity="0.85"/>
<rect x="464.69" y="190.9" width="0.8" height="4.1" fill="#555"/>
<rect x="515.60" y="190.9" width="0.9" height="4.2" fill="#444"/>
<rect x="514.08" y="190.9" width="0.6" height="2.4" fill="#666"/>
<line x1="393.3" y1="207.0" x2="510.0" y2="207.0" stroke="#111" stroke-width="1.4"/><polygon points="508.4,204.3 514.0,207.0 508.4,209.7" fill="#111"/>
<text transform="translate(21.00,14.00) scale(0.852,1)" font-size="10.3" letter-spacing="-0.250" stroke="#1c1c1c" stroke-width="0.3">a)</text>
<text transform="translate(52.50,31.00) scale(0.860,1)" font-size="10.3" letter-spacing="-0.047" stroke="#1c1c1c" stroke-width="0.3">5min</text>
<text transform="translate(124.40,31.00) scale(0.860,1)" font-size="10.3" letter-spacing="-0.154" stroke="#1c1c1c" stroke-width="0.3">4h</text>
<text transform="translate(18.90,142.00) scale(0.718,1)" font-size="10.3" letter-spacing="-0.250" stroke="#1c1c1c" stroke-width="0.3">UT</text>
<text transform="translate(6.00,164.00) scale(0.860,1)" font-size="10.3" letter-spacing="0.500" stroke="#1c1c1c" stroke-width="0.3">Ctl Ab</text>
<text transform="translate(5.90,191.00) scale(0.860,1)" font-size="10.3" letter-spacing="0.305" stroke="#1c1c1c" stroke-width="0.3">TS2/9</text>
<text transform="translate(85.20,220.00) scale(0.860,1)" font-size="10.3" letter-spacing="0.209" stroke="#1c1c1c" stroke-width="0.3">PKH67</text>
<text transform="translate(206.00,14.00) scale(0.819,1)" font-size="10.3" letter-spacing="-0.250" stroke="#1c1c1c" stroke-width="0.3">b)</text>
<text transform="translate(238.20,31.00) scale(0.860,1)" font-size="10.3" letter-spacing="-0.164" stroke="#1c1c1c" stroke-width="0.3">5min</text>
<text transform="translate(308.60,31.00) scale(0.850,1)" font-size="10.3" letter-spacing="-0.250" stroke="#1c1c1c" stroke-width="0.3">4h</text>
<text transform="translate(202.00,142.00) scale(0.800,1)" font-size="10.3" letter-spacing="-0.250" stroke="#1c1c1c" stroke-width="0.3">UT</text>
<text transform="translate(185.00,164.00) scale(0.860,1)" font-size="10.3" letter-spacing="0.453" stroke="#1c1c1c" stroke-width="0.3">Ctl Ab</text>
<text transform="translate(169.00,193.00) scale(0.860,1)" font-size="10.3" letter-spacing="0.347" stroke="#1c1c1c" stroke-width="0.3">W-CAM-1</text>
<text transform="translate(268.50,220.00) scale(0.860,1)" font-size="10.3" letter-spacing="0.209" stroke="#1c1c1c" stroke-width="0.3">PKH67</text>
<text transform="translate(384.80,14.00) scale(0.860,1)" font-size="10.3" letter-spacing="-0.112" stroke="#1c1c1c" stroke-width="0.3">c)</text>
<text transform="translate(416.40,31.00) scale(0.860,1)" font-size="10.3" letter-spacing="-0.164" stroke="#1c1c1c" stroke-width="0.3">5min</text>
<text transform="translate(485.20,31.00) scale(0.823,1)" font-size="10.3" letter-spacing="-0.250" stroke="#1c1c1c" stroke-width="0.3">4h</text>
<text transform="translate(383.20,137.00) scale(0.807,1)" font-size="10.3" letter-spacing="-0.250" stroke="#1c1c1c" stroke-width="0.3">UT</text>
<text transform="translate(368.50,161.00) scale(0.860,1)" font-size="10.3" letter-spacing="0.453" stroke="#1c1c1c" stroke-width="0.3">Ctl Ab</text>
<text transform="translate(368.50,189.00) scale(0.860,1)" font-size="10.3" letter-spacing="0.213" stroke="#1c1c1c" stroke-width="0.3">HEC7</text>
<text transform="translate(440.20,220.00) scale(0.860,1)" font-size="10.3" letter-spacing="0.122" stroke="#1c1c1c" stroke-width="0.3">PKH67</text>
<text transform="translate(271.50,254.00) scale(0.860,1)" font-size="10.3" letter-spacing="0.328" stroke="#1c1c1c" stroke-width="0.3">MFI</text>
<text transform="translate(211.70,280.00) scale(0.832,1)" font-size="10.3" letter-spacing="-0.250" stroke="#1c1c1c" stroke-width="0.3">300</text>
<text transform="translate(329.40,281.50) scale(0.817,1)" font-size="10.3" letter-spacing="-0.250" stroke="#1c1c1c" stroke-width="0.3">1400</text>
<defs><linearGradient id="g" x1="0" x2="1" y1="0" y2="0"><stop offset="0" stop-color="#000"/><stop offset="0.5" stop-color="#8c8c8c"/><stop offset="1" stop-color="#f6f6f6"/></linearGradient></defs>
<rect x="218.1" y="260.2" width="121.2" height="9.2" fill="url(#g)" stroke="#1e1e1e" stroke-width="1.1"/>
</svg>
</body>
</html>
